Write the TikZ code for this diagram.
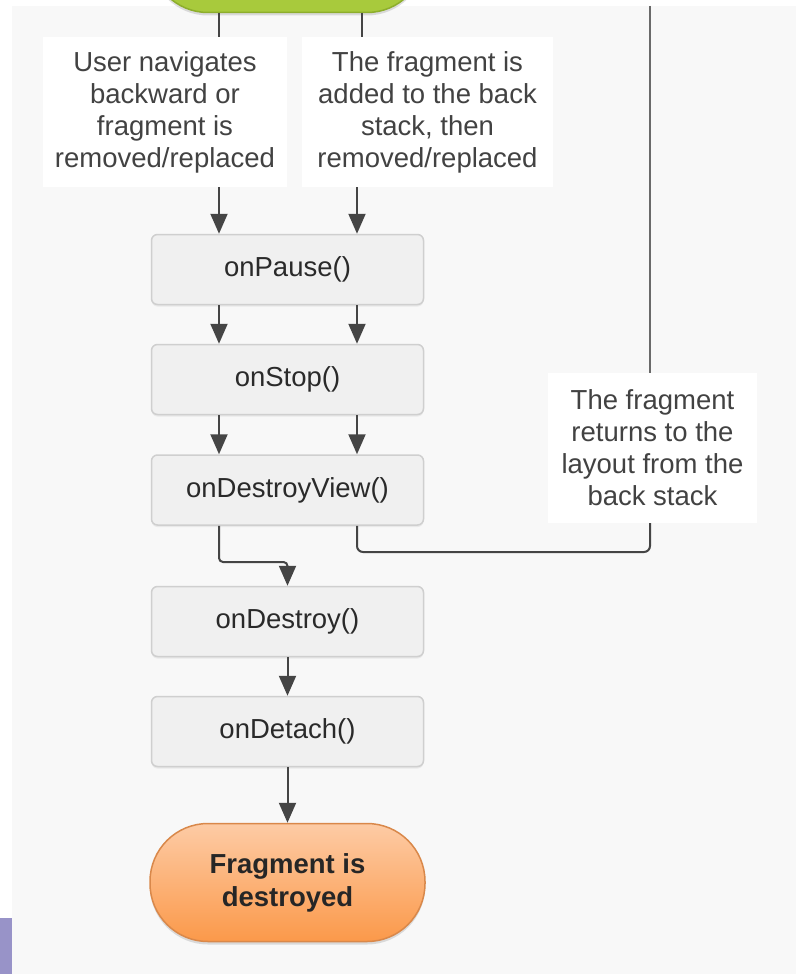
\documentclass[tikz,border=0pt]{standalone}
\usepackage{fontspec}
\setmainfont{Liberation Sans}
\usetikzlibrary{arrows.meta,shadows}

\definecolor{pagegray}{HTML}{F8F8F8}
\definecolor{boxfill}{HTML}{F0F0F0}
\definecolor{boxedge}{HTML}{CFCFCF}
\definecolor{inktext}{HTML}{2A2A2A}
\definecolor{notetext}{HTML}{424242}
\definecolor{wire}{HTML}{454545}
\definecolor{returnwire}{HTML}{6A6A6A}
\definecolor{orangetop}{HTML}{FDCBA5}
\definecolor{orangebot}{HTML}{FB994A}
\definecolor{orangeedge}{HTML}{D9884A}
\definecolor{greenfill}{HTML}{A8CA3C}
\definecolor{greenedge}{HTML}{8DAE2C}
\definecolor{tabpurple}{HTML}{9893C8}

\tikzset{
  txt/.style={font=\fontsize{27.5}{32}\selectfont},
  callbox/.style={txt, draw=boxedge, line width=1.5pt, fill=boxfill,
    rounded corners=6pt, minimum width=272pt, minimum height=70pt,
    text=inktext, inner sep=0pt,
    drop shadow={opacity=0.12, shadow xshift=0pt, shadow yshift=-2pt}},
  notebox/.style={txt, fill=white, align=center, text=notetext,
    inner sep=0pt, minimum height=150pt},
  stadium/.style={rounded corners=58pt, minimum width=275pt,
    minimum height=118pt, inner sep=0pt, line width=1.5pt,
    drop shadow={opacity=0.25, shadow xshift=0pt, shadow yshift=-3pt}},
  arr/.style={draw=wire, line width=2pt,
    -{Triangle[width=17pt,length=20pt]}},
  plain/.style={draw=wire, line width=2pt},
}

\begin{document}
\begin{tikzpicture}[x=1pt,y=-1pt]
  \useasboundingbox (0,0) rectangle (796,974);
  % page background
  \fill[white] (0,0) rectangle (796,974);
  \fill[pagegray] (12,6) rectangle (796,974);
  \fill[tabpurple] (0,918) rectangle (12,974);

  % column positions of the connectors
  \coordinate (colL) at (219,0);
  \coordinate (colR) at (357,0);
  \coordinate (colRt) at (362,0);
  \coordinate (colB) at (650,0);
  \coordinate (topEdge) at (650,6);
  \coordinate (joinY) at (0,562);
  \coordinate (backY) at (0,552);

  % start state (cut off by the top edge)
  \node[stadium, draw=greenedge, fill=greenfill] (green) at (287.5,-46.5) {};

  % explanatory notes
  \node[notebox, minimum width=244pt] (tbL) at (165,112)
    {User navigates\\backward or\\fragment is\\removed/replaced};
  \node[notebox, minimum width=251pt] (tbR) at (427.5,112)
    {The fragment is\\added to the back\\stack, then\\removed/replaced};
  \node[notebox, minimum width=209pt] (ret) at (652.5,448)
    {The fragment\\returns to the\\layout from the\\back stack};

  % lifecycle callbacks
  \node[callbox] (pause)   at (287.5,269.5) {onPause()};
  \node[callbox] (stop)    at (287.5,379.5) {onStop()};
  \node[callbox] (dview)   at (287.5,490)   {onDestroyView()};
  \node[callbox] (destroy) at (287.5,621.5) {onDestroy()};
  \node[callbox] (detach)  at (287.5,731.5) {onDetach()};

  % final state
  \node[stadium, draw=orangeedge, top color=orangetop, bottom color=orangebot,
        txt, font=\fontsize{27.5}{33}\selectfont\bfseries, align=center,
        text=black!85] (dead) at (287.5,882.5)
    {Fragment is\\destroyed};

  % connectors
  \draw[plain] (green.south -| colL) -- (tbL.north -| colL);
  \draw[plain] (green.south -| colRt) -- (tbR.north -| colRt);
  \draw[arr] (tbL.south -| colL) -- (pause.north -| colL);
  \draw[arr] (tbR.south -| colR) -- (pause.north -| colR);
  \draw[arr] (pause.south -| colL) -- (stop.north -| colL);
  \draw[arr] (pause.south -| colR) -- (stop.north -| colR);
  \draw[arr] (stop.south -| colL) -- (dview.north -| colL);
  \draw[arr] (stop.south -| colR) -- (dview.north -| colR);
  \draw[arr, rounded corners=4pt] (dview.south -| colL) -- (colL |- joinY)
    -- (destroy.north |- joinY) -- (destroy.north);
  \draw[arr] (destroy.south) -- (detach.north);
  \draw[arr] (detach.south) -- (dead.north);

  % path back to the layout
  \draw[draw=returnwire, line width=2.2pt] (topEdge) -- (ret.north -| colB);
  \draw[plain, rounded corners=6pt] (dview.south -| colR) -- (colR |- backY)
    -- (colB |- backY) -- (ret.south -| colB);
\end{tikzpicture}
\end{document}
